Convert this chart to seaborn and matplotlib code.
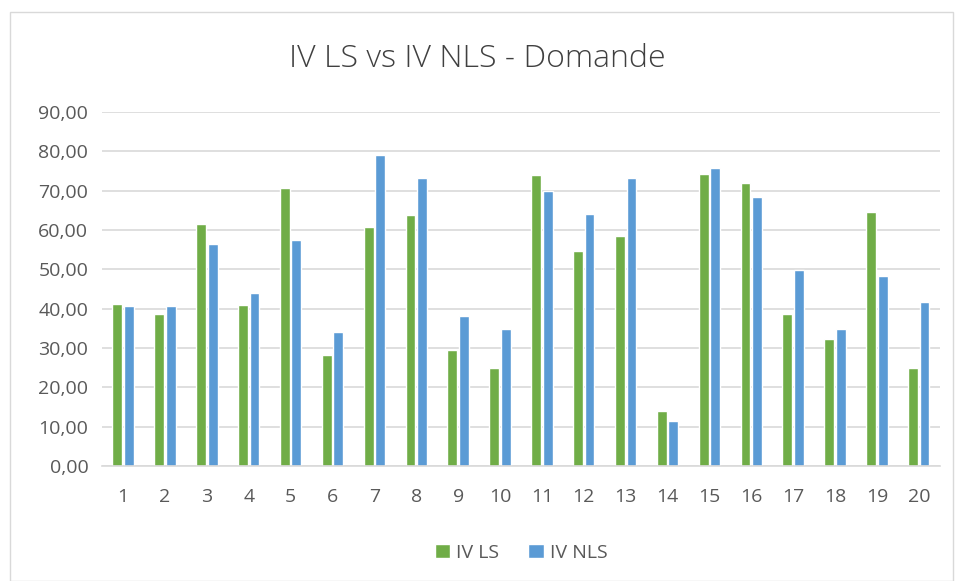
import pandas as pd
import matplotlib.pyplot as plt
import seaborn as sns
from matplotlib.patches import Rectangle

# values
osservazioni = [str(i) for i in range(1, 21)]
iv_ls = [41.1, 38.6, 61.6, 40.9, 70.8, 28.2, 60.8, 63.9, 29.5, 25.0,
         74.0, 54.6, 58.6, 13.9, 74.3, 71.9, 38.6, 32.3, 64.5, 25.0]
iv_nls = [40.8, 40.8, 56.5, 44.0, 57.4, 34.1, 79.0, 73.3, 38.1, 34.9,
          69.9, 64.0, 73.3, 11.4, 75.8, 68.3, 49.9, 34.9, 48.2, 41.6]
y_ticks = [0, 10, 20, 30, 40, 50, 60, 70, 80, 90]

df = pd.DataFrame({"oss": osservazioni * 2,
                   "valore": iv_ls + iv_nls,
                   "serie": ["IV LS"] * 20 + ["IV NLS"] * 20})

sns.set_style("white")
plt.rcParams["font.family"] = ["Open Sans", "DejaVu Sans"]

fig = plt.figure(figsize=(9.55, 5.81), dpi=100)
ax = fig.add_axes([0.107, 0.198, 0.877, 0.609])

sns.barplot(data=df, x="oss", y="valore", hue="serie",
            palette=["#70AD47", "#5B9BD5"], saturation=1,
            width=0.55, gap=0.15, ax=ax, legend=True)

ax.set_ylim(0, 90)
ax.set_xlim(-0.5, 19.5)
ax.set_yticks(y_ticks)
ax.set_yticklabels([f"{v:.2f}".replace(".", ",") for v in y_ticks])
ax.yaxis.grid(True, color="#D9D9D9", linewidth=1.2)
ax.set_axisbelow(True)
for s in ["top", "right", "left"]:
    ax.spines[s].set_visible(False)
ax.spines["bottom"].set_color("#D9D9D9")
ax.spines["bottom"].set_linewidth(1.2)
ax.tick_params(axis="both", length=0, labelsize=14, colors="#595959")
ax.tick_params(axis="y", pad=10)
ax.tick_params(axis="x", pad=16)
ax.set_xlabel("")
ax.set_ylabel("")

ax.legend(loc="center", bbox_to_anchor=(0.5, -0.245), ncol=2,
          frameon=False, fontsize=14, handlelength=0.8, handleheight=0.8,
          columnspacing=1.5, handletextpad=0.3, labelcolor="#595959")

fig.text(0.5, 0.898, "IV LS vs IV NLS - Domande", ha="center", va="center",
         fontsize=23, color="#404040", fontweight="light")

# light chart border as in the original
fig.patches.append(Rectangle((0.010, 0.0), 0.988, 0.98, transform=fig.transFigure,
                             fill=False, edgecolor="#D9D9D9", linewidth=1))

fig.savefig("out.png", dpi=100)
